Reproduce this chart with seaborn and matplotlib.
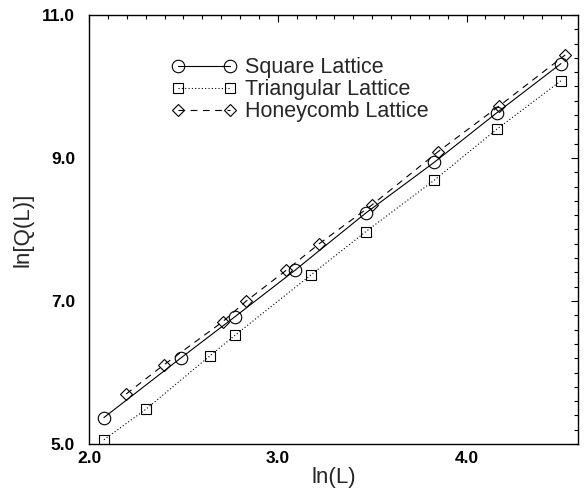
import matplotlib
matplotlib.use("Agg")
import matplotlib.pyplot as plt
import seaborn as sns
import pandas as pd
from matplotlib.ticker import MultipleLocator, FixedLocator, FormatStrFormatter

sns.set_theme(style="white")
plt.rcParams['font.family'] = ['Liberation Sans', 'DejaVu Sans']

# Square lattice
sq_x = [2.079, 2.485, 2.773, 3.091, 3.466, 3.829, 4.159, 4.500]
sq_y = [5.37, 6.20, 6.78, 7.43, 8.23, 8.94, 9.63, 10.32]
# Triangular lattice
tri_x = [2.079, 2.303, 2.639, 2.773, 3.178, 3.466, 3.829, 4.159, 4.500]
tri_y = [5.06, 5.49, 6.23, 6.52, 7.37, 7.97, 8.69, 9.40, 10.08]
# Honeycomb lattice
hc_x = [2.197, 2.398, 2.708, 2.833, 3.045, 3.219, 3.497, 3.850, 4.174, 4.522]
hc_y = [5.70, 6.11, 6.71, 7.00, 7.43, 7.80, 8.34, 9.09, 9.73, 10.44]

labels = ["Square Lattice", "Triangular Lattice", "Honeycomb Lattice"]
x_ticks = [2.0, 3.0, 4.0]
y_ticks = [5.0, 7.0, 9.0, 11.0]

fig = plt.figure(figsize=(5.84, 4.91), dpi=100)
ax = fig.add_axes([0.1524, 0.0957, 0.8373, 0.8738])

common = dict(color="black", linewidth=0.8, markerfacecolor="none",
              markeredgecolor="black", markeredgewidth=0.8, sort=False)
sns.lineplot(x=sq_x, y=sq_y, ax=ax, marker="o", markersize=9,
             linestyle="-", label=labels[0], **common)
sns.lineplot(x=tri_x, y=tri_y, ax=ax, marker="s", markersize=6.5,
             linestyle=(0, (1, 2)), label=labels[1], **common)
sns.lineplot(x=hc_x, y=hc_y, ax=ax, marker="D", markersize=6.2,
             linestyle=(0, (6, 5)), label=labels[2], **common)

ax.set_xlim(2.0, 4.59)
ax.set_ylim(5.0, 11.0)
ax.xaxis.set_major_locator(FixedLocator(x_ticks))
ax.xaxis.set_minor_locator(MultipleLocator(0.1))
ax.yaxis.set_major_locator(FixedLocator(y_ticks))
ax.yaxis.set_minor_locator(MultipleLocator(0.2))
ax.xaxis.set_major_formatter(FormatStrFormatter("%.1f"))
ax.yaxis.set_major_formatter(FormatStrFormatter("%.1f"))
ax.tick_params(which="both", direction="in", top=True, right=True,
               colors="black", width=0.8)
ax.tick_params(which="major", length=5, labelsize=12.5)
ax.tick_params(axis="x", which="major", pad=5)
ax.tick_params(axis="y", which="major", pad=10)
ax.tick_params(which="minor", length=3)
for lab in ax.get_xticklabels() + ax.get_yticklabels():
    lab.set_fontweight("bold")
for s in ax.spines.values():
    s.set_color("black")
    s.set_linewidth(1.0)

ax.set_xlabel("ln(L)", fontsize=16, labelpad=1)
ax.set_ylabel("ln[Q(L)]", fontsize=16, labelpad=6)

leg = ax.legend(loc="upper left", bbox_to_anchor=(0.13, 0.947), frameon=False,
                fontsize=15.5, numpoints=2, handlelength=3.0, handletextpad=0.4,
                labelspacing=0.05)

fig.savefig("out.png", dpi=100)
